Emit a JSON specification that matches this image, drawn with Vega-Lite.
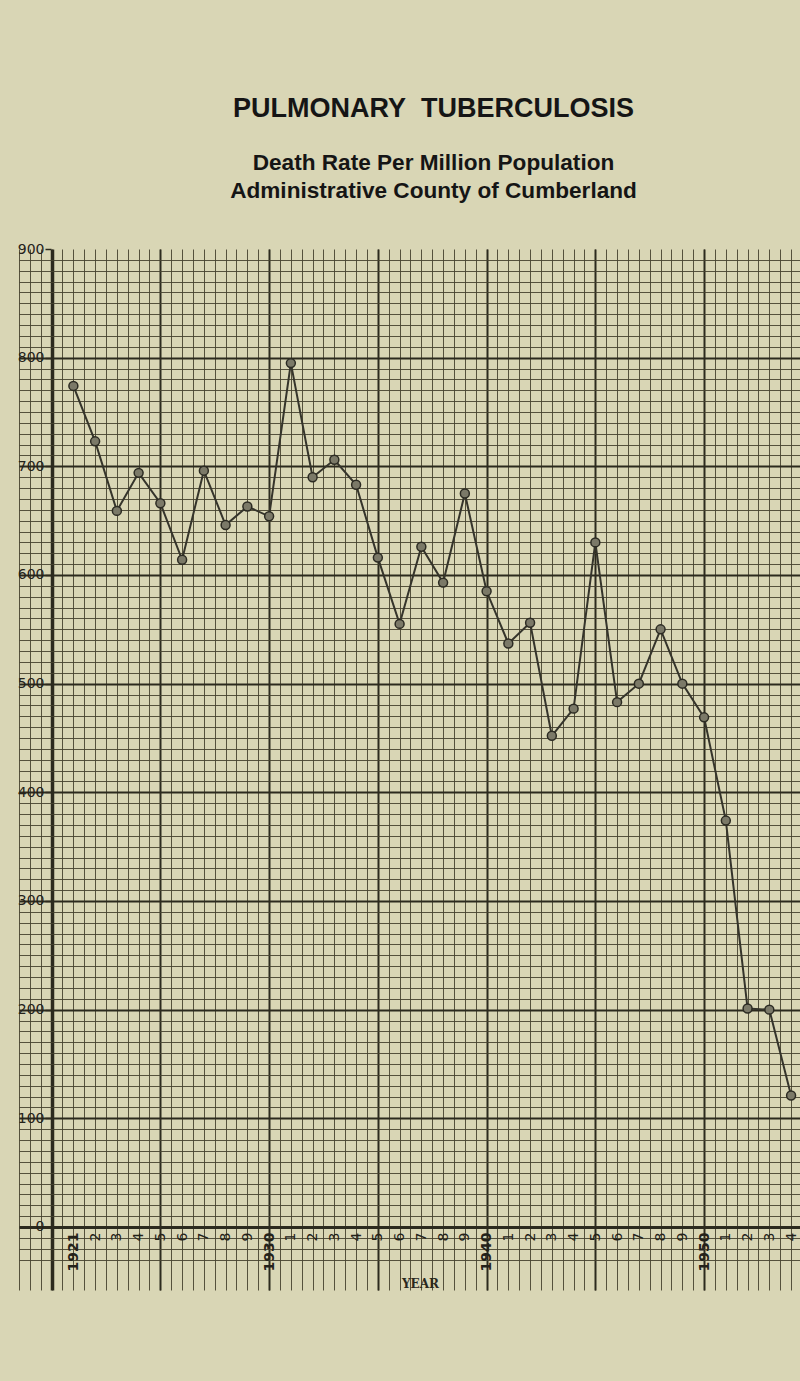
{
  "$schema": "https://vega.github.io/schema/vega-lite/v6.json",
  "width": 781,
  "height": 1041,
  "autosize": "none",
  "padding": {"left": 19, "top": 249, "right": 0, "bottom": 91},
  "background": "#d9d6b5",
  "title": {
    "text": "PULMONARY\u00a0 TUBERCULOSIS",
    "subtitle": ["Death Rate Per Million Population", "Administrative County of Cumberland"],
    "font": "Liberation Sans",
    "fontSize": 27,
    "fontWeight": "bold",
    "color": "#151515",
    "subtitleFont": "Liberation Sans",
    "subtitleFontSize": 22.6,
    "subtitleFontWeight": "bold",
    "subtitleColor": "#151515",
    "subtitleLineHeight": 28,
    "subtitlePadding": 29,
    "anchor": "middle",
    "frame": "group",
    "offset": 38,
    "dx": 24
  },
  "data": {
    "values": [
      {"year": 1921, "rate": 774},
      {"year": 1922, "rate": 723},
      {"year": 1923, "rate": 659},
      {"year": 1924, "rate": 694},
      {"year": 1925, "rate": 666},
      {"year": 1926, "rate": 614},
      {"year": 1927, "rate": 696},
      {"year": 1928, "rate": 646},
      {"year": 1929, "rate": 663},
      {"year": 1930, "rate": 654},
      {"year": 1931, "rate": 795},
      {"year": 1932, "rate": 690},
      {"year": 1933, "rate": 706},
      {"year": 1934, "rate": 683},
      {"year": 1935, "rate": 616},
      {"year": 1936, "rate": 555},
      {"year": 1937, "rate": 626},
      {"year": 1938, "rate": 593},
      {"year": 1939, "rate": 675},
      {"year": 1940, "rate": 585},
      {"year": 1941, "rate": 537},
      {"year": 1942, "rate": 556},
      {"year": 1943, "rate": 452},
      {"year": 1944, "rate": 477},
      {"year": 1945, "rate": 630},
      {"year": 1946, "rate": 483},
      {"year": 1947, "rate": 500},
      {"year": 1948, "rate": 550},
      {"year": 1949, "rate": 500},
      {"year": 1950, "rate": 469},
      {"year": 1951, "rate": 374},
      {"year": 1952, "rate": 201},
      {"year": 1953, "rate": 200},
      {"year": 1954, "rate": 121}
    ]
  },
  "layer": [
    {
      "mark": {"type": "line", "color": "#35342b", "strokeWidth": 2},
      "encoding": {
        "x": {
          "field": "year", "type": "quantitative",
          "scale": {"domain": [1918.5, 1954.41], "nice": false, "zero": false},
          "axis": {
            "orient": "bottom",
            "values": [1918.5,1919,1919.5,1920,1920.5,1921,1921.5,1922,1922.5,1923,1923.5,1924,1924.5,1925,1925.5,1926,1926.5,1927,1927.5,1928,1928.5,1929,1929.5,1930,1930.5,1931,1931.5,1932,1932.5,1933,1933.5,1934,1934.5,1935,1935.5,1936,1936.5,1937,1937.5,1938,1938.5,1939,1939.5,1940,1940.5,1941,1941.5,1942,1942.5,1943,1943.5,1944,1944.5,1945,1945.5,1946,1946.5,1947,1947.5,1948,1948.5,1949,1949.5,1950,1950.5,1951,1951.5,1952,1952.5,1953,1953.5,1954],
            "grid": true, "gridColor": "#46432f", "gridWidth": 1, "gridOpacity": 0.9,
            "labels": false, "ticks": false, "domain": false, "title": null
          }
        },
        "y": {
          "field": "rate", "type": "quantitative",
          "scale": {"domain": [-58, 900], "nice": false, "zero": false},
          "axis": {
            "orient": "left",
            "values": [-30,-20,-10,0,10,20,30,40,50,60,70,80,90,100,110,120,130,140,150,160,170,180,190,200,210,220,230,240,250,260,270,280,290,300,310,320,330,340,350,360,370,380,390,400,410,420,430,440,450,460,470,480,490,500,510,520,530,540,550,560,570,580,590,600,610,620,630,640,650,660,670,680,690,700,710,720,730,740,750,760,770,780,790,800,810,820,830,840,850,860,870,880,890],
            "grid": true, "gridColor": "#46432f", "gridWidth": 1, "gridOpacity": 0.9,
            "labels": false, "ticks": false, "domain": false, "title": null
          }
        }
      }
    },
    {
      "mark": {"type": "circle", "size": 80, "fill": "#7b7968", "fillOpacity": 1, "stroke": "#2c2b23", "strokeWidth": 1.5, "opacity": 1},
      "encoding": {
        "x": {
          "field": "year", "type": "quantitative",
          "axis": {
            "orient": "bottom",
            "offset": -63,
            "values": [1920,1921,1922,1923,1924,1925,1926,1927,1928,1929,1930,1931,1932,1933,1934,1935,1936,1937,1938,1939,1940,1941,1942,1943,1944,1945,1946,1947,1948,1949,1950,1951,1952,1953,1954],
            "grid": true,
            "gridColor": "#2c2a1e",
            "gridWidth": {"condition": {"test": "datum.value == 1920", "value": 3.5}, "value": 2},
            "gridOpacity": {"condition": {"test": "datum.value % 5 == 0", "value": 1}, "value": 0},
            "ticks": false, "domain": false,
            "labelAngle": 270,
            "labelExpr": "datum.value == 1920 ? '' : ((datum.value % 10 == 0 || datum.value == 1921) ? toString(datum.value) : toString(datum.value % 10))",
            "labelFont": "DejaVu Sans",
            "labelFontSize": 14,
            "labelFontWeight": {"condition": {"test": "datum.value % 10 == 0 || datum.value == 1921", "value": "bold"}, "value": "normal"},
            "labelColor": "#24221a",
            "labelPadding": 5,
            "labelOverlap": false,
            "labelFlush": false,
            "title": "YEAR",
            "titleFont": "DejaVu Serif",
            "titleFontSize": 12,
            "titleFontWeight": "bold",
            "titleColor": "#2a281e",
            "titleAngle": 0,
            "titleAlign": "center",
            "titleBaseline": "alphabetic",
            "titleX": 401,
            "titleY": 60
          }
        },
        "y": {
          "field": "rate", "type": "quantitative",
          "axis": {
            "orient": "left",
            "offset": -32,
            "values": [0,100,200,300,400,500,600,700,800,900],
            "grid": true,
            "gridColor": "#2c2a1e",
            "gridWidth": {"condition": {"test": "datum.value == 0", "value": 3}, "value": 2},
            "gridOpacity": {"condition": {"test": "datum.value == 900", "value": 0}, "value": 1},
            "ticks": true, "tickSize": 6, "tickWidth": 1.5, "tickColor": "#2c2a1e",
            "domain": false,
            "labelFont": "DejaVu Sans",
            "labelFontSize": 14,
            "labelColor": "#24221a",
            "labelPadding": 1,
            "title": null
          }
        }
      }
    }
  ],
  "resolve": {"axis": {"x": "independent", "y": "independent"}},
  "config": {"view": {"stroke": null}}
}
